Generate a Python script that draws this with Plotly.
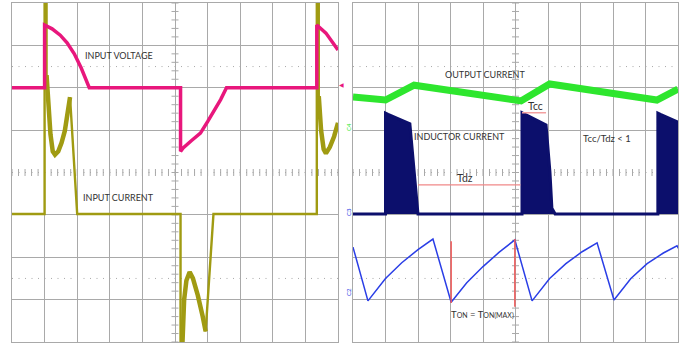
import numpy as np
import plotly.graph_objects as go

# ---------------- data (scope divisions: x 0..10, y -4..4) ----------------
# Left screen
vin_t = [0, 1.0, 1.0, 1.23, 1.48, 1.69, 1.91, 2.12, 2.37, 5.17, 5.17, 5.25, 5.5, 5.78, 6.0, 6.2, 6.4, 6.58, 9.35, 9.35, 9.63, 10.0]
vin_v = [2.0, 2.0, 3.48, 3.39, 3.24, 3.06, 2.80, 2.47, 2.0, 2.0, 0.5, 0.58, 0.75, 0.93, 1.2, 1.45, 1.72, 2.0, 2.0, 3.48, 3.29, 2.89]

iin_t = [0, 1.0, 1.0, 1.06, 1.06, 1.12, 1.18, 1.25, 1.32, 1.42, 1.52, 1.62, 1.70, 1.76, 1.78, 2.0,
         5.17, 5.17, 5.23, 5.23, 5.28, 5.35, 5.45, 5.55, 5.7, 5.85, 5.94, 6.18,
         9.35, 9.35, 9.41, 9.41, 9.48, 9.56, 9.63, 9.75, 9.88, 10.0]
iin_v = [-0.98, -0.98, 4.5, 4.5, 2.3, 1.5, 0.9, 0.5, 0.42, 0.5, 0.7, 0.98, 1.3, 1.68, 1.78, -0.98,
         -0.98, -4.5, -4.5, -4.0, -3.0, -2.55, -2.35, -2.5, -2.9, -3.4, -3.75, -0.98,
         -0.98, 4.5, 4.5, 1.8, 1.0, 0.55, 0.45, 0.6, 0.85, 1.17]
hump_ranges = [(4, 15), (19, 27), (31, 38)]

# Right screen
iout_t = [0, 1.0, 1.88, 5.17, 6.05, 9.35, 10.0]
iout_v = [1.78, 1.71, 2.06, 1.69, 2.09, 1.71, 1.97]

il_t = [0, 1.0, 1.0, 1.08, 1.75, 1.85, 1.97, 2.0,
        5.2, 5.2, 5.28, 5.94, 6.06, 6.12, 6.22,
        9.38, 9.38, 9.46, 10.0, 10.0]
il_v = [-0.98, -0.98, 1.40, 1.37, 1.15, 0.25, -0.77, -0.98,
        -0.98, 1.41, 1.38, 1.12, 0.01, -0.84, -0.98,
        -0.98, 1.40, 1.37, 1.19, -0.98]

vs_t = [0, 0.46, 1.0, 1.5, 2.0, 2.46, 3.02, 3.5, 4.0, 4.5, 4.98, 5.51, 6.05, 6.55, 7.05, 7.51, 8.03, 8.55, 9.05, 9.55, 9.97, 10.03]
vs_v = [-1.76, -3.03, -2.5, -2.13, -1.82, -1.57, -3.06, -2.6, -2.22, -1.88, -1.59, -3.03, -2.5, -2.15, -1.87, -1.66, -3.01, -2.5, -2.15, -1.9, -1.73, -1.81]

# annotation markers (divisions)
tcc_t = [5.2, 5.94]; tcc_v = 1.41
tdz_t = [2.0, 5.15]; tdz_v = -0.29
ton_t = [3.02, 4.98]; ton_lo = [-3.08, -3.17]; ton_hi = [-1.62, -1.57]

# ---------------- styling ----------------
W, H = 684, 343
LEFT_DOM = [12 / W, 338 / W]
RIGHT_DOM = [353 / W, 678 / W]
Y_DOM = [1 / H, 340 / H]
GRID = "#a9a9a9"
MAG = "#e8177c"
OLIVE = "#a09b12"
GREEN = "#2ee62e"
NAVY = "#0c0f6c"
BLUE = "#2a3ee6"
TXT = "#333333"
FONT = "Lato"

fig = go.Figure()

def add_grid_extras(xa, ya):
    # center-line ticks and dotted lines
    tx = np.arange(0, 10.001, 0.2)
    ty = np.arange(-4, 4.001, 0.2)
    fig.add_trace(go.Scatter(x=tx, y=np.zeros_like(tx), mode="markers", xaxis=xa, yaxis=ya,
                             marker=dict(symbol="line-ns", size=5, line=dict(width=1, color=GRID)),
                             hoverinfo="skip"))
    fig.add_trace(go.Scatter(x=np.full_like(ty, 5.0), y=ty, mode="markers", xaxis=xa, yaxis=ya,
                             marker=dict(symbol="line-ew", size=5, line=dict(width=1, color=GRID)),
                             hoverinfo="skip"))
    for yy in (-2.5, 0, 2.5):
        fig.add_shape(type="line", xref=xa, yref=ya, x0=0, x1=10, y0=yy, y1=yy,
                      line=dict(color=GRID, width=1, dash="1px,5.5px"), layer="below")

add_grid_extras("x", "y")
add_grid_extras("x2", "y2")

# left traces
fig.add_trace(go.Scatter(x=iin_t, y=iin_v, mode="lines", line=dict(color=OLIVE, width=2.4),
                         xaxis="x", yaxis="y", hoverinfo="skip"))
for a, b in hump_ranges:
    fig.add_trace(go.Scatter(x=iin_t[a:b], y=iin_v[a:b], mode="lines",
                             line=dict(color=OLIVE, width=4.5), xaxis="x", yaxis="y", hoverinfo="skip"))
fig.add_trace(go.Scatter(x=vin_t, y=vin_v, mode="lines", line=dict(color=MAG, width=3.5),
                         xaxis="x", yaxis="y", hoverinfo="skip"))

# right traces
fig.add_trace(go.Scatter(x=il_t, y=il_v, mode="lines", fill="toself", fillcolor=NAVY,
                         line=dict(color=NAVY, width=3), xaxis="x2", yaxis="y2", hoverinfo="skip"))
fig.add_trace(go.Scatter(x=iout_t, y=iout_v, mode="lines", line=dict(color=GREEN, width=7),
                         xaxis="x2", yaxis="y2", hoverinfo="skip"))
fig.add_trace(go.Scatter(x=vs_t, y=vs_v, mode="lines", line=dict(color=BLUE, width=1.5),
                         xaxis="x2", yaxis="y2", hoverinfo="skip"))

# annotation lines
fig.add_trace(go.Scatter(x=tcc_t, y=[tcc_v, tcc_v], mode="lines", line=dict(color="#f3a0a0", width=1.5),
                         xaxis="x2", yaxis="y2", hoverinfo="skip"))
fig.add_trace(go.Scatter(x=tdz_t, y=[tdz_v, tdz_v], mode="lines", line=dict(color="#f08888", width=1.2),
                         xaxis="x2", yaxis="y2", hoverinfo="skip"))
for t, lo, hi in zip(ton_t, ton_lo, ton_hi):
    fig.add_trace(go.Scatter(x=[t, t], y=[lo, hi], mode="lines", line=dict(color="#f05a5a", width=1.5),
                             xaxis="x2", yaxis="y2", hoverinfo="skip"))

axis_common = dict(showgrid=True, gridcolor=GRID, gridwidth=1, zeroline=False,
                   showticklabels=False, ticks="", showline=True, linecolor=GRID, linewidth=1,
                   mirror=True, fixedrange=True)
xa = dict(axis_common, range=[0, 10], tickvals=[1, 2, 3, 4, 5, 6, 7, 8, 9])
ya = dict(axis_common, range=[-4, 4], tickvals=[-3, -2, -1, 1, 2, 3])

def txt(x, y, s, ref, size=9, color=TXT, **kw):
    return dict(x=x, y=y, xref=ref[0], yref=ref[1], text=s, showarrow=False,
                font=dict(family=FONT, size=size, color=color), **kw)

annotations = [
    txt(3.29, 2.77, "INPUT VOLTAGE", ("x", "y")),
    txt(3.26, -0.60, "INPUT CURRENT", ("x", "y")),
    txt(4.06, 2.32, "OUTPUT CURRENT", ("x2", "y2")),
    txt(3.29, 0.84, "INDUCTOR CURRENT", ("x2", "y2")),
    txt(7.82, 0.81, "Tcc/Tdz &lt; 1", ("x2", "y2"), size=9.5),
    txt(5.6, 1.57, "Tcc", ("x2", "y2"), size=10.5),
    txt(3.45, -0.13, "Tdz", ("x2", "y2"), size=10.5),
    txt(3.97, -3.34, "T<span style='font-size:7px'>ON</span> = T<span style='font-size:7px'>ON(MAX)</span>",
        ("x2", "y2"), size=9.5),
    # scope channel markers
    dict(x=341 / W, y=1 - 79 / H, xref="paper", yref="paper", text="◀", showarrow=False,
         font=dict(size=6, color=MAG)),
    dict(x=348 / W, y=1 - 127 / H, xref="paper", yref="paper", text="C4", showarrow=False,
         textangle=-90, font=dict(family=FONT, size=6, color=GREEN)),
    dict(x=348 / W, y=1 - 212 / H, xref="paper", yref="paper", text="C3", showarrow=False,
         textangle=-90, font=dict(family=FONT, size=6, color=BLUE)),
    dict(x=348 / W, y=1 - 298 / H, xref="paper", yref="paper", text="C2", showarrow=False,
         textangle=-90, font=dict(family=FONT, size=6, color=BLUE)),
]

fig.update_layout(
    width=W, height=H, margin=dict(l=0, r=0, t=0, b=0),
    paper_bgcolor="white", plot_bgcolor="white", showlegend=False, hovermode=False,
    xaxis=dict(xa, domain=LEFT_DOM, anchor="y"),
    yaxis=dict(ya, domain=Y_DOM, anchor="x"),
    xaxis2=dict(xa, domain=RIGHT_DOM, anchor="y2"),
    yaxis2=dict(ya, domain=Y_DOM, anchor="x2"),
    annotations=annotations,
)

fig.write_html("out.html", config={"displayModeBar": False})
